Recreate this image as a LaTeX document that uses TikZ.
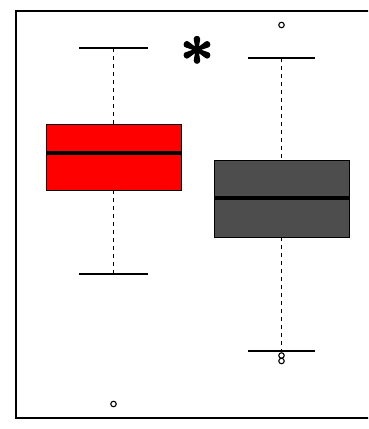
\documentclass[tikz,border=0pt]{standalone}
\usepackage{fontspec}
\usepackage{tikz}
\newfontfamily\starfont{lmroman10-bold.otf}[FakeBold=2]

\tikzset{
	frame/.style={line width=1.2pt},
	whisk/.style={dash pattern=on 4pt off 4pt, line width=0.9pt},
	whiskcap/.style={line width=1.1pt},
	boxbody/.style={draw=black, line width=0.9pt},
	median/.style={line width=3.4pt},
	outlier/.style={circle, draw, line width=1.1pt, inner sep=0pt, minimum size=5.5pt}
}
\definecolor{darkbox}{HTML}{4D4D4D}

\begin{document}
\begin{tikzpicture}[x=1pt, y=-1pt]
		\useasboundingbox (0,0) rectangle (368,429);
		\clip (0,0) rectangle (368,429);
		\draw[frame] (372,11) -- (16,11) -- (16,418) -- (372,418);
		
		% first group
		\coordinate (Ltop) at (113.5,48);
		\coordinate (Lbot) at (113.5,274);
		\draw[whisk] (Ltop) -- (113.5,124);
		\draw[whisk] (113.5,190) -- (Lbot);
		\draw[whiskcap] (79,48) -- (148,48);
		\draw[whiskcap] (79,274) -- (148,274);
		\filldraw[boxbody, fill=red] (46,124) rectangle (181,190);
		\draw[median] (46,153) -- (181,153);
		\node[outlier] (L1) at (113.5,404) {};
		
		% second group
		\coordinate (Rtop) at (281.5,58);
		\coordinate (Rbot) at (281.5,351);
		\draw[whisk] (Rtop) -- (281.5,160);
		\draw[whisk] (281.5,237) -- (Rbot);
		\draw[whiskcap] (248,58) -- (315,58);
		\draw[whiskcap] (248,351) -- (315,351);
		\filldraw[boxbody, fill=darkbox] (214,160) rectangle (349,237);
		\draw[median] (214,198) -- (349,198);
		\node[outlier] (R1) at (281.5,25) {};
		\node[outlier] (R2) at (281.5,355.5) {};
		\node[outlier] (R3) at (281.5,361) {};
		
		\node[inner sep=0pt, font=\fontsize{60}{60}\selectfont\starfont] (sig) at (197,59) {*};
	\end{tikzpicture}
\end{document}
